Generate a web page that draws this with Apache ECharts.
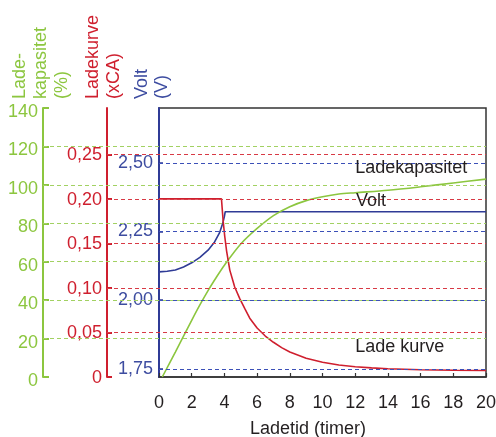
<!DOCTYPE html>
<html>
<head>
<meta charset="utf-8">
<script src="https://cdn.jsdelivr.net/npm/echarts@6/dist/echarts.min.js"></script>
<style>
html,body{margin:0;padding:0;background:#fff;}
#c{width:496px;height:437px;}
</style>
</head>
<body>
<div id="c"></div>
<script>
// ---- data ----
const greenT = [0.2, 1, 2, 2.5, 3, 3.5, 4, 5, 6, 7, 8, 9, 10, 11, 12, 14, 16, 18, 20];
const greenV = [0, 13, 29.5, 37.5, 45, 51.8, 58.2, 69.2, 77.3, 84, 88.6, 91.8, 93.8, 95.2, 95.9, 97.2, 99, 101, 103];

const redT = [0, 3.82, 3.92, 4.02, 4.13, 4.33, 4.63, 4.94, 5.24, 5.55, 6, 6.5, 7, 7.5, 8, 9, 10, 11, 12, 13, 14, 16, 18, 20];
const redV = [0.2, 0.2, 0.176, 0.158, 0.142, 0.12, 0.101, 0.088, 0.077, 0.066, 0.055, 0.046, 0.039, 0.033, 0.028, 0.021, 0.0165, 0.0135, 0.0115, 0.0102, 0.0093, 0.0081, 0.0075, 0.0073];

const blueT = [0, 0.5, 1, 1.5, 2, 2.5, 3, 3.4, 3.7, 3.9, 4.0, 4.05, 20];
const blueV = [2.103, 2.105, 2.11, 2.121, 2.136, 2.156, 2.182, 2.212, 2.245, 2.28, 2.305, 2.322, 2.322];

const timeTicks = [0, 2, 4, 6, 8, 10, 12, 14, 16, 18, 20];
const greenTicks = [0, 20, 40, 60, 80, 100, 120, 140];
const greenGridVals = [20, 40, 60, 80, 100, 120];
const redTicks = [0, 0.05, 0.10, 0.15, 0.20, 0.25];
const redTickLabels = ['0', '0,05', '0,10', '0,15', '0,20', '0,25'];
const redGridVals = [0.05, 0.10, 0.15, 0.20, 0.25];
const blueTicks = [1.75, 2.00, 2.25, 2.50];
const blueTickLabels = ['1,75', '2,00', '2,25', '2,50'];

const annLadekap = [12, 108.5];
const annVolt = [12.05, 2.362];
const annLadeKurve = [12.0, 0.0335];

// ---- styles ----
const GREEN = '#8cc63f', GREEN_D = '#a2d162';
const RED = '#cf1f2e', RED_D = '#d83a45';
const BLUE = '#2f3b96', BLUE_L = '#3d4ca0', BLUE_D = '#3c50b8';
const DARK = '#231f20';
const FONT = '"Liberation Sans", Arial, sans-serif';

function zip(a, b) { return a.map((v, i) => [v, b[i]]); }
function lookup(ticks, labels) {
  return function (v) {
    const i = ticks.findIndex(t => Math.abs(t - v) < 1e-6);
    return i >= 0 ? labels[i] : '';
  };
}
function gridMark(vals, color) {
  return {
    silent: true, symbol: ['none', 'none'], animation: false,
    label: { show: false },
    lineStyle: { color: color, type: [4, 3], width: 1.2 },
    emphasis: { disabled: true },
    data: vals.map(v => ({ yAxis: v }))
  };
}
function annot(coord, text) {
  return {
    silent: true, symbol: 'circle', symbolSize: 0, animation: false,
    label: { show: true, position: 'right', distance: 0, color: DARK, fontSize: 18, fontFamily: FONT, formatter: text },
    data: [{ coord: coord }]
  };
}

const common = { top: 108, bottom: 60, right: 10, outerBoundsMode: 'none', containLabel: false };

const option = {
  animation: false,
  backgroundColor: '#fff',
  textStyle: { fontFamily: FONT },
  grid: [
    Object.assign({ left: 43, show: false }, common),
    Object.assign({ left: 107, show: false }, common),
    Object.assign({ left: 159, show: true, borderColor: '#333', borderWidth: 1.5, backgroundColor: 'transparent' }, common)
  ],
  xAxis: [
    { gridIndex: 0, type: 'value', min: 0, max: 1, show: false },
    { gridIndex: 1, type: 'value', min: 0, max: 1, show: false },
    {
      gridIndex: 2, type: 'value', min: 0, max: 20, interval: 2,
      axisLine: { show: true, lineStyle: { color: '#333', width: 1.5 } },
      axisTick: { show: true, inside: true, length: 4, lineStyle: { color: '#333', width: 1.2 } },
      axisLabel: { color: DARK, fontSize: 18, fontFamily: FONT, margin: 17,
        formatter: lookup(timeTicks, timeTicks.map(String)) },
      splitLine: { show: false },
      name: 'Ladetid (timer)', nameLocation: 'middle', nameGap: 43.5,
      nameTextStyle: { color: DARK, fontSize: 18, fontFamily: FONT, padding: [0, 29, 0, 0] }
    }
  ],
  yAxis: [
    {
      gridIndex: 0, type: 'value', min: 0, max: 140, interval: 20,
      axisLine: { show: true, lineStyle: { color: GREEN, width: 2 } },
      axisTick: { show: true, inside: true, length: 6, lineStyle: { color: GREEN, width: 2 } },
      axisLabel: { color: GREEN, fontSize: 18, fontFamily: FONT, margin: 5, verticalAlign: 'top', lineHeight: 8,
        formatter: lookup(greenTicks, greenTicks.map(String)) },
      splitLine: { show: false }
    },
    {
      gridIndex: 1, type: 'value', min: 0, max: 0.302,
      axisLine: { show: true, lineStyle: { color: RED, width: 2 } },
      axisTick: { show: true, inside: true, length: 5, customValues: redTicks, lineStyle: { color: RED, width: 2 } },
      axisLabel: { color: RED, fontSize: 18, fontFamily: FONT, margin: 5, customValues: redTicks,
        verticalAlign: 'top', lineHeight: 2,
        formatter: lookup(redTicks, redTickLabels) },
      splitLine: { show: false }
    },
    {
      gridIndex: 2, type: 'value', min: 1.72, max: 2.70,
      axisLine: { show: true, lineStyle: { color: BLUE, width: 2 } },
      axisTick: { show: true, inside: true, length: 4, customValues: blueTicks, lineStyle: { color: BLUE, width: 1.5 } },
      axisLabel: { color: BLUE_L, fontSize: 18, fontFamily: FONT, margin: 6, customValues: blueTicks,
        formatter: lookup(blueTicks, blueTickLabels) },
      splitLine: { show: false }
    },
    { gridIndex: 2, type: 'value', min: 0, max: 140, show: false },
    { gridIndex: 2, type: 'value', min: 0, max: 0.302, show: false }
  ],
  series: [
    { type: 'line', xAxisIndex: 0, yAxisIndex: 0, data: [[0, 0]], showSymbol: false, symbol: 'none',
      lineStyle: { width: 0 }, z: 1, silent: true, markLine: gridMark(greenGridVals, GREEN_D) },
    { type: 'line', xAxisIndex: 1, yAxisIndex: 1, data: [[0, 0]], showSymbol: false, symbol: 'none',
      lineStyle: { width: 0 }, z: 1, silent: true, markLine: gridMark(redGridVals, RED_D) },
    { name: 'Volt', type: 'line', xAxisIndex: 2, yAxisIndex: 2, data: zip(blueT, blueV),
      showSymbol: false, symbol: 'none', lineStyle: { color: BLUE, width: 1.6 }, z: 3,
      markLine: gridMark(blueTicks, BLUE_D), markPoint: annot(annVolt, 'Volt') },
    { name: 'Ladekapasitet', type: 'line', xAxisIndex: 2, yAxisIndex: 3, data: zip(greenT, greenV),
      smooth: 0.3, showSymbol: false, symbol: 'none',
      lineStyle: { color: GREEN, width: 1.6 }, z: 3, markPoint: annot(annLadekap, 'Ladekapasitet') },
    { name: 'Lade kurve', type: 'line', xAxisIndex: 2, yAxisIndex: 4, data: zip(redT, redV),
      showSymbol: false, symbol: 'none', lineStyle: { color: RED, width: 1.6 }, z: 3,
      markPoint: annot(annLadeKurve, 'Lade kurve') }
  ],
  graphic: [
    { type: 'text', x: 9.5, y: 99, rotation: Math.PI / 2, silent: true,
      style: { text: 'Lade-\nkapasitet\n(%)', fill: GREEN, font: '18px ' + FONT, align: 'left', verticalAlign: 'top', lineHeight: 21 } },
    { type: 'text', x: 83, y: 99, rotation: Math.PI / 2, silent: true,
      style: { text: 'Ladekurve\n(xCA)', fill: RED, font: '18px ' + FONT, align: 'left', verticalAlign: 'top', lineHeight: 20.5 } },
    { type: 'text', x: 132.5, y: 99, rotation: Math.PI / 2, silent: true,
      style: { text: 'Volt\n(V)', fill: BLUE_L, font: '18px ' + FONT, align: 'left', verticalAlign: 'top', lineHeight: 20 } }
  ]
};

const chart = echarts.init(document.getElementById('c'), null, { renderer: 'canvas' });
chart.setOption(option);
</script>
</body>
</html>
